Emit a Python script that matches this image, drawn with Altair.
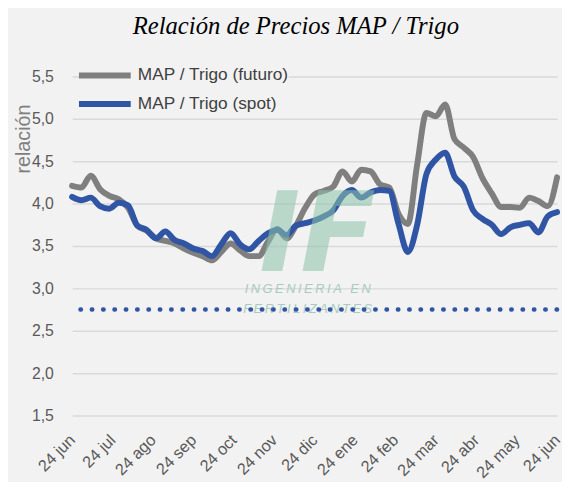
import altair as alt
import pandas as pd

# ---- data ----
series_names = ["MAP / Trigo (futuro)", "MAP / Trigo (spot)"]
series_colors = ["#7f7f7f", "#2f55a4"]

days = [0, 7, 14, 21, 28, 35, 42, 49, 56, 63, 70, 77, 84, 91, 98, 105, 112, 119,
        126, 133, 140, 147, 154, 161, 168, 175, 182, 189, 196, 203, 210, 217, 224,
        231, 238, 245, 252, 259, 266, 273, 280, 287, 294, 301, 308, 315, 322, 329,
        336, 343, 350, 357, 364]

futuro = [4.21, 4.19, 4.33, 4.17, 4.09, 4.05, 3.95, 3.74, 3.68, 3.59, 3.56, 3.53,
          3.47, 3.42, 3.38, 3.33, 3.43, 3.53, 3.45, 3.38, 3.38, 3.55, 3.70, 3.59,
          3.74, 3.95, 4.11, 4.15, 4.20, 4.38, 4.26, 4.40, 4.38, 4.23, 4.19, 3.88,
          3.76, 4.46, 5.07, 5.03, 5.17, 4.76, 4.66, 4.55, 4.30, 4.12, 3.96, 3.96,
          3.95, 4.07, 4.03, 3.97, 4.31]

spot = [4.08, 4.04, 4.07, 3.97, 3.94, 4.01, 3.98, 3.74, 3.69, 3.59, 3.67, 3.57,
        3.53, 3.47, 3.44, 3.38, 3.52, 3.65, 3.52, 3.46, 3.56, 3.65, 3.69, 3.63,
        3.74, 3.77, 3.80, 3.85, 3.92, 4.09, 4.16, 4.07, 4.13, 4.16, 4.15, 3.76,
        3.43, 3.75, 4.35, 4.52, 4.60, 4.32, 4.20, 3.92, 3.82, 3.75, 3.64, 3.72,
        3.75, 3.77, 3.66, 3.85, 3.90]

month_labels = ["24 jun", "24 jul", "24 ago", "24 sep", "24 oct", "24 nov",
                "24 dic", "24 ene", "24 feb", "24 mar", "24 abr", "24 may", "24 jun"]
x_max = 364
y_ticks = [1.5, 2.0, 2.5, 3.0, 3.5, 4.0, 4.5, 5.0, 5.5]
reference_level = [2.75]
watermark_lines = ["INGENIERIA EN", "FERTILIZANTES"]

# ---- tables ----
df = pd.DataFrame({
    "dia": days * 2,
    "valor": futuro + spot,
    "serie": [series_names[0]] * len(days) + [series_names[1]] * len(days),
})
x_ticks = [x_max * i / 12 for i in range(13)]
label_array = "[" + ",".join("'" + m + "'" for m in month_labels) + "]"

x_scale = alt.Scale(domain=[0, x_max], nice=False, zero=False)
y_scale = alt.Scale(domain=[1.5, 5.5], nice=False, zero=False)

y_axis = alt.Axis(
    values=y_ticks,
    labelExpr="replace(format(datum.value, '.1f'), '.', ',')",
    grid=True, gridColor="#d9d9d9", gridWidth=1.5, domain=False, ticks=False,
    labelPadding=19, labelFontSize=16, labelColor="#595959",
    labelFont="Liberation Sans",
    title="relación", titleFontSize=20, titleColor="#7f7f7f",
    titleFont="Liberation Sans", titleFontWeight="normal",
    titleAngle=-90, titleX=-43, titleY=63, titleAlign="center",
    titleBaseline="alphabetic")

lines = alt.Chart(df).mark_line(
    strokeWidth=6, interpolate="monotone", strokeCap="round", strokeJoin="round"
).encode(
    x=alt.X("dia:Q", scale=x_scale, axis=alt.Axis(
        values=x_ticks,
        labelExpr=label_array + "[round(datum.value * 12 / " + str(x_max) + ")]",
        labelAngle=-45, labelAlign="right", labelBaseline="middle",
        labelPadding=22, grid=False, domain=False, ticks=False, title=None,
        labelFontSize=16.5, labelColor="#595959", labelFont="Liberation Sans",
        labelOverlap=False, labelBound=False, labelFlush=False)),
    y=alt.Y("valor:Q", scale=y_scale, axis=y_axis),
    color=alt.Color("serie:N",
                    scale=alt.Scale(domain=series_names, range=series_colors),
                    legend=alt.Legend(
                        orient="none", legendX=19.75, legendY=-14.5, title=None,
                        symbolType="M-2.5,0H2.5", symbolSize=441,
                        symbolStrokeWidth=6,
                        labelFontSize=17.5, labelColor="#404040",
                        labelFont="Liberation Sans", labelOffset=20,
                        rowPadding=3, padding=0, fillColor="#f2f2f2")),
)

logo = alt.Chart(pd.DataFrame({"t": ["IF"]})).mark_text(
    font="DejaVu Sans", fontWeight="bold", fontStyle="italic", fontSize=112,
    color="#8cc4ab", opacity=0.55, baseline="middle", align="center"
).encode(text="t:N", x=alt.value(249), y=alt.value(163))

spaced = ["\u2009".join(list(s)) for s in watermark_lines]

wm1 = alt.Chart(pd.DataFrame({"t": [spaced[0]]})).mark_text(
    font="Liberation Sans", fontStyle="italic", fontSize=13,
    color="#a9cbbd", baseline="middle", align="center"
).encode(text="t:N", x=alt.value(239), y=alt.value(216))

wm2 = alt.Chart(pd.DataFrame({"t": [spaced[1]]})).mark_text(
    font="Liberation Sans", fontStyle="italic", fontSize=13,
    color="#a9cbbd", baseline="middle", align="center"
).encode(text="t:N", x=alt.value(239), y=alt.value(236))

rule = alt.Chart(pd.DataFrame({"ref": reference_level})).mark_rule(
    strokeDash=[0.5, 11], strokeWidth=4.5, strokeCap="round", color="#2f55a4"
).encode(y=alt.Y("ref:Q", scale=y_scale, axis=y_axis))

chart = alt.layer(lines, logo, wm1, wm2, rule).properties(
    width=492, height=344,
    padding={"left": 65, "top": 66, "right": 5, "bottom": 64},
    autosize=alt.AutoSizeParams(type="none"),
    title=alt.Title("Relación de Precios MAP / Trigo", font="Liberation Serif",
                    fontStyle="italic", fontWeight="normal", fontSize=25,
                    color="#000000", anchor="middle", dx=-19, offset=24),
).configure(background="#f2f2f2").configure_view(stroke=None)

chart.save("out.html", embed_options={"renderer": "svg", "actions": False})
